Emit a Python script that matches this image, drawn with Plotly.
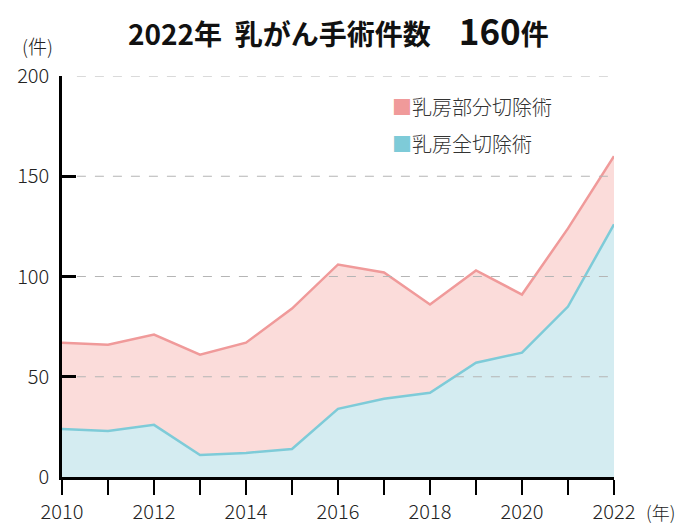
import plotly.graph_objects as go

years = list(range(2010, 2023))
total = [67, 66, 71, 61, 67, 84, 106, 102, 86, 103, 91, 124, 160]
mastectomy = [24, 23, 26, 11, 12, 14, 34, 39, 42, 57, 62, 85, 126]
y_ticks = [0, 50, 100, 150, 200]
x_labels = [str(y) if y % 2 == 0 else "" for y in years]
legend_names = ["乳房部分切除術", "乳房全切除術"]

FONT = "Noto Sans CJK JP"
RED_LINE = "#f09a9a"
RED_FILL = "#fbdcda"
BLUE_LINE = "#7ecbd8"
BLUE_FILL = "#d4ecf1"

fig = go.Figure()
fig.add_trace(go.Scatter(x=years, y=mastectomy, mode="lines", fill="tozeroy",
                         fillcolor=BLUE_FILL, line=dict(color=BLUE_LINE, width=2.5),
                         name=legend_names[1], showlegend=False, hoverinfo="skip"))
fig.add_trace(go.Scatter(x=years, y=total, mode="lines", fill="tonexty",
                         fillcolor=RED_FILL, line=dict(color=RED_LINE, width=2.5),
                         name=legend_names[0], showlegend=False, hoverinfo="skip"))

# dashed gridlines drawn above the fills
for v in y_ticks[1:]:
    fig.add_shape(type="line", xref="paper", yref="y", x0=0.027, x1=1, y0=v, y1=v,
                  line=dict(color="#b5b5b5", width=1.2, dash="dash"), layer="above")

fig.update_layout(
    width=684, height=524,
    margin=dict(l=62, r=70, t=76, b=47),
    paper_bgcolor="white", plot_bgcolor="white",
    font=dict(family=FONT, color="#222"),
    showlegend=False,
    xaxis=dict(range=[2010, 2022], tickvals=years, ticktext=x_labels,
               ticks="outside", ticklen=15, tickwidth=2, tickcolor="black",
               showline=True, linecolor="black", linewidth=2.5,
               showgrid=False, zeroline=False, automargin=False,
               tickfont=dict(family=FONT, size=20, color="#222", weight=300),
               ticklabelstandoff=0),
    yaxis=dict(range=[0, 200], tickvals=y_ticks,
               ticks="inside", ticklen=14, tickwidth=2.5, tickcolor="black",
               showline=True, linecolor="black", linewidth=2.5,
               showgrid=False, zeroline=False, automargin=False,
               tickfont=dict(family=FONT, size=20, color="#222", weight=300),
               ticklabelstandoff=6),
)

# custom legend
for name, col, ypos in [(legend_names[0], RED_LINE, 0.9227),
                        (legend_names[1], BLUE_LINE, 0.8329)]:
    fig.add_annotation(xref="paper", yref="paper", x=0.5935, y=ypos,
                       text=f"<span style='color:{col}'>■</span>{name}",
                       showarrow=False,
                       font=dict(family=FONT, size=20, color="#333", weight=300),
                       xanchor="left", yanchor="middle")

fig.add_annotation(xref="paper", yref="paper", x=0.5, y=1.0, yshift=47,
                   text="<b>2022年  乳がん手術件数　<span style='font-size:35px'>160</span>件</b>",
                   showarrow=False, font=dict(family=FONT, size=28, color="#111"),
                   xanchor="center", yanchor="middle")
fig.add_annotation(xref="paper", yref="paper", x=0, y=1.0, xshift=-25, yshift=31,
                   text="(件)", showarrow=False,
                   font=dict(family=FONT, size=19, color="#222", weight=300),
                   xanchor="center", yanchor="middle")
fig.add_annotation(xref="paper", yref="paper", x=1.0, y=0, xshift=46, yshift=-35,
                   text="(年)", showarrow=False,
                   font=dict(family=FONT, size=18, color="#222", weight=300),
                   xanchor="center", yanchor="middle")

fig.write_html("out.html", config={"displayModeBar": False},
               post_script="document.body.style.margin='0';")
